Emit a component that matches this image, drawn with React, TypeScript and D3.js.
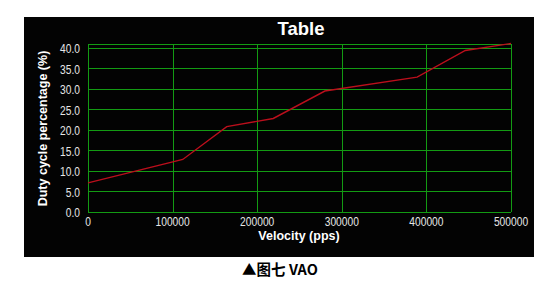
import React from "react";
import * as d3 from "d3";

const velocity = [0, 112000, 164000, 219000, 280000, 389000, 446000, 500000];
const duty = [7.0, 12.7, 20.7, 22.7, 29.4, 32.8, 39.3, 41.0];
const xTicks = [0, 100000, 200000, 300000, 400000, 500000];
const yTicks = [0, 5, 10, 15, 20, 25, 30, 35, 40];

const W = 557;
const H = 283;

function narrowLen(s: string) {
  let w = 0;
  for (const c of s) w += c === "." ? 2.8 : 5.7;
  return w;
}

export default function App() {
  const x = d3.scaleLinear().domain([0, 500000]).range([88, 511]);
  const y = d3.scaleLinear().domain([0, 41]).range([211.5, 43.5]);
  const line = d3
    .line<number>()
    .x((_, i) => x(velocity[i]))
    .y((d) => y(d));
  const sans = "'Liberation Sans', Arial, sans-serif";
  return (
    <svg
      width={W}
      height={H}
      style={{ position: "absolute", left: 0, top: 0, background: "#fff" }}
    >
      <rect x={24} y={17} width={510} height={240} fill="#030303" />
      <text x={301} y={35} fill="#fff" fontFamily={sans} fontWeight="bold" fontSize={18.5} textAnchor="middle">
        Table
      </text>
      <g stroke="#139b13" strokeWidth={1} shapeRendering="crispEdges">
        {yTicks.map((t) => (
          <line key={"gy" + t} x1={x(0)} x2={x(500000)} y1={Math.round(y(t)) + 0.5} y2={Math.round(y(t)) + 0.5} />
        ))}
        {xTicks.map((t) => (
          <line key={"gx" + t} x1={Math.round(x(t)) + 0.5} x2={Math.round(x(t)) + 0.5} y1={y(41)} y2={y(0)} />
        ))}
        <line x1={x(0)} x2={x(500000)} y1={Math.round(y(41)) + 0.5} y2={Math.round(y(41)) + 0.5} />
      </g>
      <path d={line(duty) || ""} fill="none" stroke="#bb0f1c" strokeWidth={1.4} />
      {yTicks.map((t) => {
        const s = t.toFixed(1);
        return (
          <text
            key={"ly" + t}
            x={80}
            y={y(t) + 5.5}
            fill="#e6e6e6"
            fontFamily={sans}
            fontSize={12.5}
            textAnchor="end"
            textLength={narrowLen(s)}
            lengthAdjust="spacingAndGlyphs"
          >
            {s}
          </text>
        );
      })}
      {xTicks.map((t) => {
        const s = String(t);
        return (
          <text
            key={"lx" + t}
            x={x(t)}
            y={226}
            fill="#e6e6e6"
            fontFamily={sans}
            fontSize={12.5}
            textAnchor="middle"
            textLength={narrowLen(s)}
            lengthAdjust="spacingAndGlyphs"
          >
            {s}
          </text>
        );
      })}
      <text x={299} y={240} fill="#fff" fontFamily={sans} fontWeight="bold" fontSize={12.5} textAnchor="middle">
        Velocity (pps)
      </text>
      <text
        transform="translate(47,128.5) rotate(-90)"
        fill="#fff"
        fontFamily={sans}
        fontWeight="bold"
        fontSize={12.5}
        textAnchor="middle"
      >
        Duty cycle percentage (%)
      </text>
      <text x={280} y={274.5} fill="#000" fontFamily="'Noto Sans CJK SC', sans-serif" fontWeight="bold" fontSize={14.5} textAnchor="middle">
        ▲图七 VAO
      </text>
    </svg>
  );
}
